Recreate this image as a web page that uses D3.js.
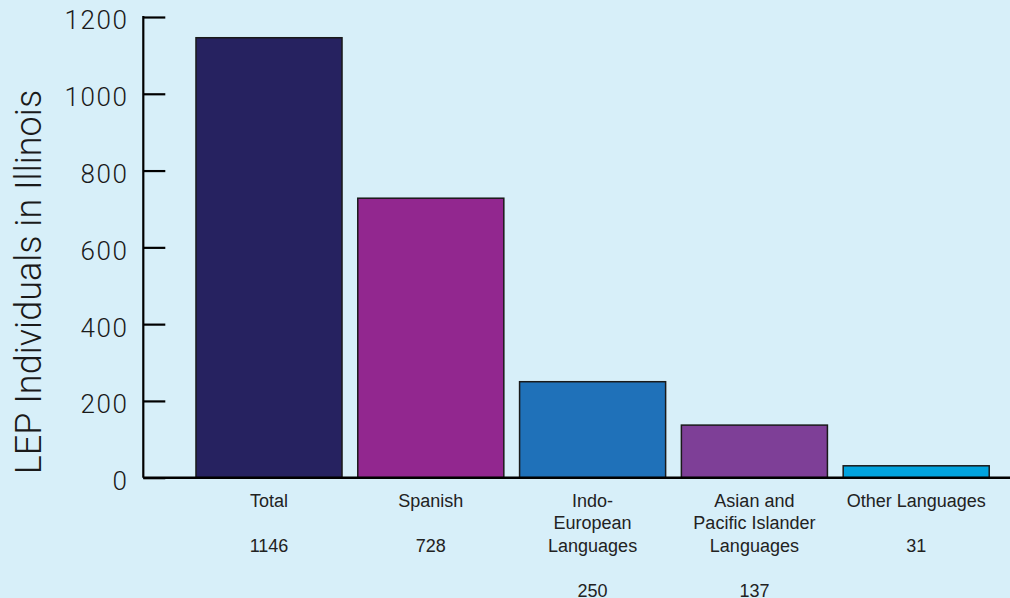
<!DOCTYPE html>
<html>
<head>
<meta charset="utf-8">
<script src="https://cdn.jsdelivr.net/npm/d3@7"></script>
<style>
  html, body { margin: 0; padding: 0; background: #d7eff9; }
  svg { display: block; }
  text { font-family: "Liberation Sans", Arial, Helvetica, sans-serif; }
  .light { font-family: Roboto, "Liberation Sans", sans-serif; font-weight: 300; }
</style>
</head>
<body>
<svg id="chart" width="1010" height="598"></svg>
<script>
const categories = ["Total", "Spanish", "Indo-European Languages", "Asian and Pacific Islander Languages", "Other Languages"];
const labelLines = [["Total"], ["Spanish"], ["Indo-", "European", "Languages"], ["Asian and", "Pacific Islander", "Languages"], ["Other Languages"]];
const values = [1146, 728, 250, 137, 31];
const colors = ["#262260", "#92278f", "#1f71b9", "#7e3f97", "#00a3de"];
const yTicks = [0, 200, 400, 600, 800, 1000, 1200];
const yTitle = "LEP Individuals in Illinois";

const W = 1010, H = 598;
const svg = d3.select("#chart");
svg.append("rect").attr("width", W).attr("height", H).attr("fill", "#d7eff9");

const x = d3.scaleBand().domain(categories).range([188.1, 997.1])
  .paddingInner(0.0974).paddingOuter(0.0487);
const y = d3.scaleLinear().domain([0, 1200]).range([477.7, 17]);

const axisX = 143.3;

// bars
svg.append("g").selectAll("rect").data(categories).join("rect")
  .attr("x", d => x(d))
  .attr("y", (d, i) => y(values[i]))
  .attr("width", x.bandwidth())
  .attr("height", (d, i) => y(0) - y(values[i]))
  .attr("fill", (d, i) => colors[i])
  .attr("stroke", "#1a1a1a")
  .attr("stroke-width", 1.5);

// y axis
const yAxis = d3.axisRight(y).tickValues(yTicks).tickSize(22).tickFormat("");
const gy = svg.append("g").attr("transform", `translate(${axisX},0)`).call(yAxis);
gy.select(".domain").remove();
gy.selectAll(".tick line").attr("stroke", "#000").attr("stroke-width", 2.2);
svg.append("line").attr("x1", axisX).attr("x2", axisX).attr("y1", y(1200) - 1).attr("y2", y(0))
  .attr("stroke", "#000").attr("stroke-width", 2.2);

// tick labels
svg.append("g").selectAll("text").data(yTicks).join("text")
  .attr("class", "light")
  .attr("x", 128.5)
  .attr("y", d => y(d) + 5.5)
  .attr("text-anchor", "end")
  .attr("dominant-baseline", "middle")
  .attr("font-size", 26)
  .attr("letter-spacing", 1.6)
  .attr("fill", "#1a1a1a")
  .text(d => d);

// baseline
svg.append("line").attr("x1", axisX).attr("x2", W).attr("y1", y(0)).attr("y2", y(0))
  .attr("stroke", "#000").attr("stroke-width", 2.6);

// y title
svg.append("text")
  .attr("class", "light")
  .attr("transform", `translate(41,282) rotate(-90)`)
  .attr("text-anchor", "middle")
  .attr("font-size", 36)
  .attr("fill", "#1a1a1a")
  .text(yTitle);

// category labels + values
const lineH = 22.5, firstBase = 506.7;
const lg = svg.append("g");
categories.forEach((c, i) => {
  const cx = x(c) + x.bandwidth() / 2;
  const lines = labelLines[i];
  lines.forEach((ln, j) => {
    lg.append("text").attr("x", cx).attr("y", firstBase + j * lineH)
      .attr("text-anchor", "middle").attr("font-size", 18).attr("fill", "#222").text(ln);
  });
  lg.append("text").attr("x", cx).attr("y", firstBase + (lines.length + 1) * lineH)
    .attr("text-anchor", "middle").attr("font-size", 18).attr("fill", "#222").text(values[i]);
});
</script>
</body>
</html>
